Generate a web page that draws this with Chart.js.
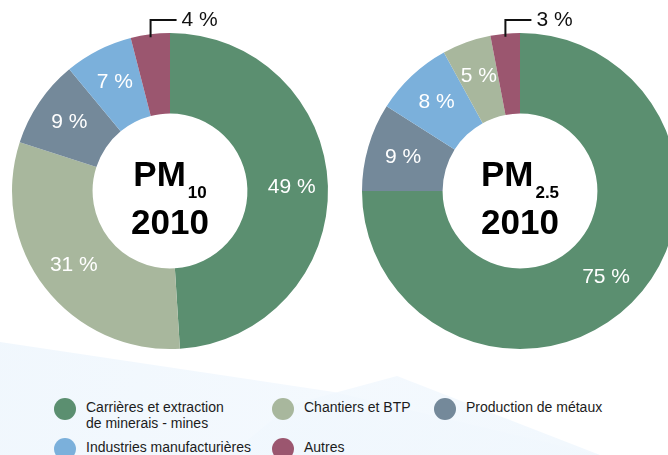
<!DOCTYPE html>
<html>
<head>
<meta charset="utf-8">
<script src="https://cdn.jsdelivr.net/npm/chart.js@4"></script>
<style>
  html, body { margin: 0; padding: 0; background: #fff; }
  body { width: 668px; height: 455px; overflow: hidden; position: relative; font-family: "Liberation Sans", Arial, sans-serif; }
  .bg { position: absolute; left: 0; top: 0; width: 668px; height: 455px; }
  .bg1 { background: linear-gradient(100deg, #f0f7fd 0%, #f4f9fe 55%, #fdfeff 100%); clip-path: polygon(0 342px, 334px 392px, 600px 455px, 0 455px); }
  .bg2 { background: linear-gradient(160deg, #f8fbff 0%, #eef6fd 100%); clip-path: polygon(290px 405px, 397px 376px, 600px 455px, 230px 455px); opacity: .8; }
  canvas { position: absolute; top: 0; }
  #pm10 { left: 0; }
  #pm25 { left: 350px; }
  #legend { position: absolute; left: 54px; top: 399px; display: grid; grid-template-columns: 218px 162px auto; row-gap: 8px; }
  .item { display: flex; align-items: flex-start; font-size: 14px; line-height: 16px; color: #1c1c1c; white-space: pre-line; }
  .dot { width: 22px; height: 22px; border-radius: 50%; margin-right: 10px; flex: none; margin-top: -1px; }
</style>
</head>
<body>
<div class="bg bg1"></div>
<div class="bg bg2"></div>
<canvas id="pm10" width="340" height="360"></canvas>
<canvas id="pm25" width="340" height="360"></canvas>
<div id="legend"></div>
<script>
// categories (legend order)
const categories = ['Carrières et extraction\nde minerais - mines', 'Chantiers et BTP', 'Production de métaux', 'Industries manufacturières', 'Autres']
const colors = ['#5b8f70', '#a8b79d', '#74899a', '#7bb0db', '#9b566f']

// parts in %, same order as categories
const pm10Values = [49, 31, 9, 7, 4]
const pm25Values = [75, 5, 9, 8, 3]

// order of slices clockwise from the top
const pm10Order = [0, 1, 2, 3, 4]
const pm25Order = [0, 2, 3, 1, 4]

const fontFam = '"Liberation Sans", Arial, sans-serif'

const labelPlugin = {
    id: 'pctLabels',
    afterDatasetsDraw(chart, args, opts) {
        const ctx = chart.ctx
        const meta = chart.getDatasetMeta(0)
        const vals = chart.data.datasets[0].data
        ctx.save()
        meta.data.forEach((arc, i) => {
            const p = arc.getProps(['x', 'y', 'startAngle', 'endAngle', 'innerRadius', 'outerRadius'], true)
            const mid = (p.startAngle + p.endAngle) / 2
            const txt = vals[i] + ' %'
            ctx.font = '21px ' + fontFam
            ctx.textBaseline = 'middle'
            if (vals[i] >= 5) {
                const r = (p.innerRadius + p.outerRadius) / 2 + 4
                ctx.fillStyle = '#fff'
                ctx.textAlign = 'center'
                ctx.fillText(txt, p.x + Math.cos(mid) * r, p.y + Math.sin(mid) * r)
            } else {
                // small slice: label outside with a leader line
                const px = p.x + Math.cos(mid) * (p.outerRadius - 3)
                const py = p.y + Math.sin(mid) * (p.outerRadius - 3)
                const top = p.y - p.outerRadius - 13
                ctx.strokeStyle = '#111'
                ctx.lineWidth = 2
                ctx.beginPath()
                ctx.moveTo(px, py)
                ctx.lineTo(px, top)
                ctx.lineTo(px + 26, top)
                ctx.stroke()
                ctx.fillStyle = '#111'
                ctx.textAlign = 'left'
                ctx.fillText(txt, px + 31, top)
            }
        })

        // title in the hole
        const cx = (chart.chartArea.left + chart.chartArea.right) / 2
        const cy = (chart.chartArea.top + chart.chartArea.bottom) / 2
        ctx.fillStyle = '#000'
        ctx.textBaseline = 'alphabetic'
        ctx.textAlign = 'left'
        ctx.font = 'bold 35px ' + fontFam
        const wMain = ctx.measureText(opts.title).width
        ctx.font = 'bold 17px ' + fontFam
        const wSub = ctx.measureText(opts.sub).width
        const x0 = cx - (wMain + wSub + 2) / 2
        ctx.font = 'bold 35px ' + fontFam
        ctx.fillText(opts.title, x0, cy - 5)
        ctx.font = 'bold 17px ' + fontFam
        ctx.fillText(opts.sub, x0 + wMain + 2, cy + 7)
        ctx.font = 'bold 35px ' + fontFam
        ctx.textAlign = 'center'
        ctx.fillText(opts.year, cx, cy + 43)
        ctx.restore()
    }
}

function makeChart(id, values, order, title, sub, year) {
    return new Chart(document.getElementById(id), {
        type: 'doughnut',
        data: {
            labels: order.map(i => categories[i]),
            datasets: [{
                data: order.map(i => values[i]),
                backgroundColor: order.map(i => colors[i]),
                borderWidth: 0
            }]
        },
        options: {
            responsive: false,
            animation: false,
            cutout: '49%',
            layout: { padding: { left: 12, top: 33, right: 12, bottom: 11 } },
            plugins: {
                legend: { display: false },
                tooltip: { enabled: false },
                pctLabels: { title: title, sub: sub, year: year }
            }
        },
        plugins: [labelPlugin]
    })
}

makeChart('pm10', pm10Values, pm10Order, 'PM', '10', '2010')
makeChart('pm25', pm25Values, pm25Order, 'PM', '2.5', '2010')

// shared legend
const legend = document.getElementById('legend')
categories.forEach((c, i) => {
    const it = document.createElement('div')
    it.className = 'item'
    const dot = document.createElement('span')
    dot.className = 'dot'
    dot.style.background = colors[i]
    const lab = document.createElement('span')
    lab.textContent = c
    it.appendChild(dot)
    it.appendChild(lab)
    legend.appendChild(it)
})
</script>
</body>
</html>
